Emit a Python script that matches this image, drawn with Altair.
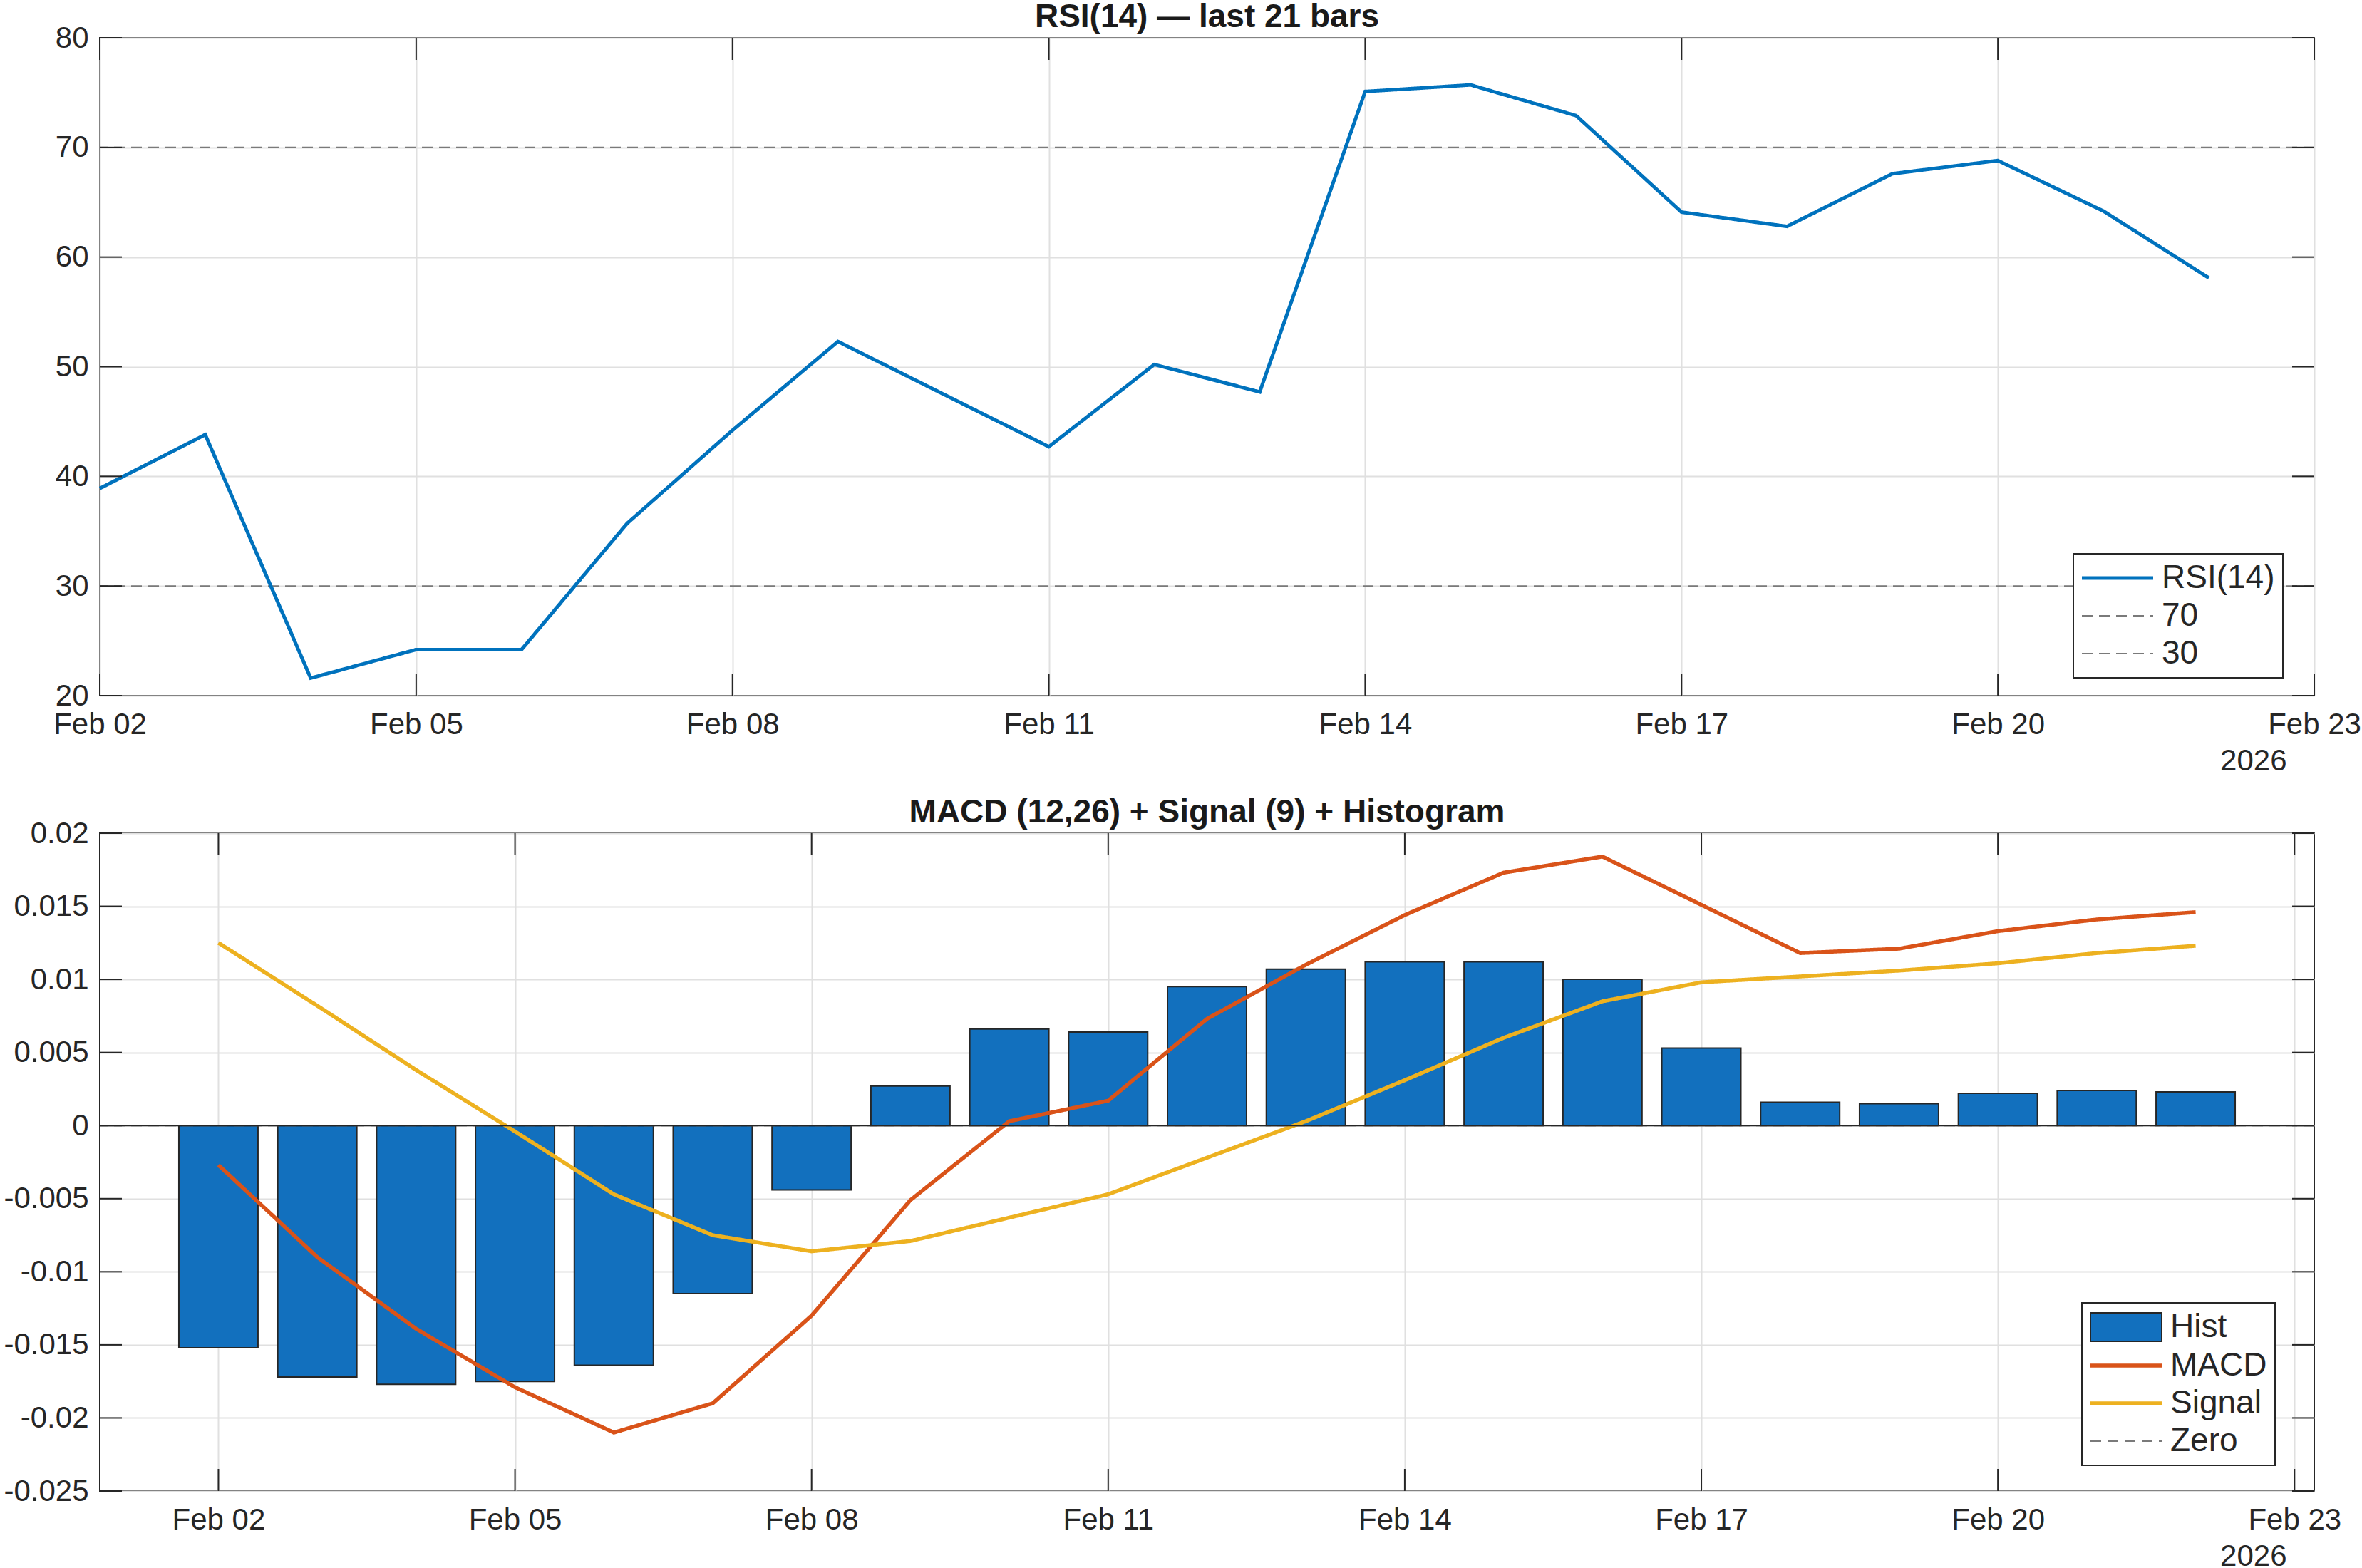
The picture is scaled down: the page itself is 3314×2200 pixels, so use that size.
import altair as alt
import pandas as pd

# ---------------- data ----------------
dates = ["2026-02-02", "2026-02-03", "2026-02-04", "2026-02-05", "2026-02-06",
         "2026-02-07", "2026-02-08", "2026-02-09", "2026-02-10", "2026-02-11",
         "2026-02-12", "2026-02-13", "2026-02-14", "2026-02-15", "2026-02-16",
         "2026-02-17", "2026-02-18", "2026-02-19", "2026-02-20", "2026-02-21",
         "2026-02-22"]
rsi = [38.9, 43.8, 21.6, 24.2, 24.2, 35.7, 44.2, 52.3, 47.5, 42.7, 50.2,
       47.7, 75.1, 75.7, 72.9, 64.1, 62.8, 67.6, 68.8, 64.2, 58.1]
rsi_levels = [70, 30]
top_names = ["RSI(14)", "70", "30"]

hist = [-0.0152, -0.0172, -0.0177, -0.0175, -0.0164, -0.0115, -0.0044,
        0.0027, 0.0066, 0.0064, 0.0095, 0.0107, 0.0112, 0.0112, 0.0100,
        0.0053, 0.0016, 0.0015, 0.0022, 0.0024, 0.0023]
macd = [-0.0027, -0.0090, -0.0139, -0.0179, -0.0210, -0.0190, -0.0130,
        -0.0051, 0.0003, 0.0017, 0.0073, 0.0110, 0.0144, 0.0173, 0.0184,
        0.0151, 0.0118, 0.0121, 0.0133, 0.0141, 0.0146]
signal = [0.0125, 0.0082, 0.0038, -0.0004, -0.0047, -0.0075, -0.0086,
          -0.0079, -0.0063, -0.0047, -0.0022, 0.0003, 0.0031, 0.0060, 0.0085,
          0.0098, 0.0102, 0.0106, 0.0111, 0.0118, 0.0123]
bot_names = ["Hist", "MACD", "Signal", "Zero"]

tick_dates = ["2026-02-02", "2026-02-05", "2026-02-08", "2026-02-11",
              "2026-02-14", "2026-02-17", "2026-02-20", "2026-02-23"]
rsi_ticks = [20, 30, 40, 50, 60, 70, 80]
macd_ticks = [-0.025, -0.02, -0.015, -0.01, -0.005, 0, 0.005, 0.01, 0.015, 0.02]

# ---------------- style ----------------
FONT = "Liberation Sans"
AX = "#262626"
GRID = "#e0e0e0"
BLUE = "#0072BD"
BAR = "#1270BE"
ORANGE = "#D95319"
YELLOW = "#EDB120"
DASHC = "#7a7a7a"
DASH = [15, 9]
SOLID = [1, 0]
LINE_SHAPE = "M-2.2,0H7.8"
THIN_SHAPE = "M-2.2,-0.18H7.8V0.18H-2.2Z"
RECT_SHAPE = "M-2.2,-2H7.8V2H-2.2Z"
LW_RSI = 5
LW = 5.5
W, H = 3107, 923
TICK = 31
DAY = 86400000
TITLE_OFFSET = -52


def ms(s):
    return int(pd.Timestamp(s, tz="UTC").value // 10**6)


tick_ms = [ms(d) for d in tick_dates]
top_domain = [ms("2026-02-02"), ms("2026-02-23")]
bot_domain = [ms("2026-02-02") - 1.2 * DAY, ms("2026-02-23") + 0.2 * DAY]

xaxis = dict(values=tick_ms, labelExpr="utcFormat(datum.value, '%b %d')",
             title="2026", titleAnchor="end", titleAlign="right",
             titleBaseline="alphabetic", titleX=3068, titleY=104,
             titleFontWeight="normal", titleFontSize=42, titleFont=FONT,
             titleColor=AX, labelPadding=20, grid=True, ticks=False,
             domain=False, labelFlush=False)


def legend(x, y, **kw):
    return alt.Legend(title=None, orient="none", legendX=x, legendY=y,
                      symbolType=LINE_SHAPE, symbolSize=400, labelOffset=67,
                      padding=11, rowPadding=7, labelFontSize=46,
                      labelFont=FONT, labelColor=AX, strokeColor=AX,
                      fillColor="white", labelLimit=400, symbolOpacity=1, **kw)


def thr_scale(n, rng):
    return alt.Scale(type="threshold", domain=[i + 0.5 for i in range(n - 1)], range=rng)


def tick_layers(ydf, xdf, xenc, yenc):
    base_y = alt.Chart(ydf).mark_rule(color=AX, strokeWidth=2)
    base_x = alt.Chart(xdf).mark_rule(color=AX, strokeWidth=2)
    return [
        base_y.encode(y=yenc, x=alt.value(0), x2=alt.value(TICK)),
        base_y.encode(y=yenc, x=alt.value(W - TICK), x2=alt.value(W)),
        base_x.encode(x=xenc, y=alt.value(0), y2=alt.value(TICK)),
        base_x.encode(x=xenc, y=alt.value(H - TICK), y2=alt.value(H)),
    ]


def title(text):
    return alt.TitleParams(text, frame="group", anchor="middle", fontSize=46,
                           fontWeight="bold", font=FONT, color="#1a1a1a",
                           offset=TITLE_OFFSET, baseline="alphabetic")


xtick_df = pd.DataFrame({"date": tick_dates})

# ---------------- top panel ----------------
xt = alt.X("date:T", scale=alt.Scale(type="utc", domain=top_domain, nice=False),
           axis=alt.Axis(**xaxis))
yt = alt.Y("value:Q", scale=alt.Scale(domain=[20, 80], nice=False, zero=False),
           axis=alt.Axis(values=rsi_ticks, title=None, grid=True, ticks=False,
                         domain=False, labelPadding=16))

label_map = "[" + ",".join("'" + n + "'" for n in top_names) + "][datum.index]"
leg_top = legend(2769, 724, labelExpr=label_map)
n_top = len(top_names)
top_style = dict(
    stroke=alt.Stroke("code:Q", scale=thr_scale(n_top, [BLUE, DASHC, DASHC]), legend=leg_top),
    strokeWidth=alt.StrokeWidth("code:Q", scale=thr_scale(n_top, [LW_RSI, 2, 2]), legend=leg_top),
    strokeDash=alt.StrokeDash("code:Q", scale=thr_scale(n_top, [SOLID, DASH, DASH]), legend=leg_top),
)

rsi_df = pd.DataFrame({"date": dates, "value": rsi, "code": 0})
lvl_df = pd.DataFrame({"value": rsi_levels, "code": [1, 2]})
ytick_top = pd.DataFrame({"value": rsi_ticks})

top_line = alt.Chart(rsi_df).mark_line().encode(x=xt, y=yt, **top_style)
top_lvl = alt.Chart(lvl_df).mark_rule().encode(y=yt, **top_style)

top = alt.layer(top_lvl, top_line, *tick_layers(ytick_top, xtick_df, xt, yt)).properties(
    width=W, height=H, title=title("RSI(14) \u2014 last 21 bars"))

# ---------------- bottom panel ----------------
xb_scale = alt.Scale(type="utc", domain=bot_domain, nice=False)
xb = alt.X("date:T", scale=xb_scale, axis=alt.Axis(**xaxis))
xb_bar = alt.X("start:T", scale=xb_scale, axis=alt.Axis(**xaxis))
yb = alt.Y("value:Q", scale=alt.Scale(domain=[-0.025, 0.02], nice=False, zero=False),
           axis=alt.Axis(values=macd_ticks, title=None, grid=True, ticks=False,
                         domain=False, labelPadding=16,
                         labelExpr="'' + datum.value"))

leg_bot = legend(2781, 659, symbolStrokeWidth=2)
bot_stroke = alt.Stroke("series:N", scale=alt.Scale(domain=bot_names, range=[AX, ORANGE, YELLOW, DASHC]), legend=leg_bot)
bot_dash = alt.StrokeDash("series:N", scale=alt.Scale(domain=bot_names, range=[SOLID, SOLID, SOLID, DASH]), legend=leg_bot)
bot_fill = alt.Fill("series:N", scale=alt.Scale(domain=bot_names, range=[BAR, ORANGE, YELLOW, "transparent"]), legend=leg_bot)
bot_shape = alt.Shape("series:N", scale=alt.Scale(domain=bot_names, range=[RECT_SHAPE, THIN_SHAPE, THIN_SHAPE, LINE_SHAPE]), legend=leg_bot)

hist_df = pd.DataFrame({"date": dates, "value": hist, "series": "Hist"})
lines_df = pd.concat([
    pd.DataFrame({"date": dates, "value": macd, "series": "MACD"}),
    pd.DataFrame({"date": dates, "value": signal, "series": "Signal"}),
])
zero_df = pd.DataFrame({"value": [0], "series": ["Zero"]})
ytick_bot = pd.DataFrame({"value": macd_ticks})

# legend carrier: same series table, no rows drawn
legend_layer = alt.Chart(hist_df).transform_filter("false").mark_point(
    filled=False, strokeWidth=2, opacity=1).encode(
    x=xb, y=yb, stroke=bot_stroke, strokeDash=bot_dash, fill=bot_fill, shape=bot_shape)
bars = alt.Chart(hist_df).transform_calculate(
    start="toDate(datum.date) - 0.4 * 86400000",
    end="toDate(datum.date) + 0.4 * 86400000",
).mark_bar(fill=BAR, stroke=AX, strokeWidth=2).encode(
    x=xb_bar, x2="end:T", y=yb, y2=alt.datum(0))
lines = alt.Chart(lines_df).mark_line(strokeWidth=LW).encode(
    x=xb, y=yb, stroke=bot_stroke, strokeDash=bot_dash)
zero = alt.Chart(zero_df).mark_rule(strokeWidth=2).encode(
    y=yb, stroke=bot_stroke, strokeDash=bot_dash)
baseline = alt.Chart(zero_df).mark_rule(color=AX, strokeWidth=2).encode(y=yb)

bottom = alt.layer(legend_layer, bars, lines, zero, baseline,
                   *tick_layers(ytick_bot, xtick_df, xb, yb)).properties(
    width=W, height=H, title=title("MACD (12,26) + Signal (9) + Histogram"))

chart = alt.vconcat(top, bottom, spacing=193, bounds="flush").resolve_scale(
    stroke="independent", x="independent", y="independent",
    strokeWidth="independent", strokeDash="independent",
    fill="independent", shape="independent"
).resolve_legend(
    stroke="independent", strokeWidth="independent", strokeDash="independent",
    fill="independent", shape="independent"
).configure(
    background="white", padding={"left": 3, "top": 0, "right": 0, "bottom": 0}
).configure_axis(
    labelFont=FONT, labelFontSize=42, labelColor=AX, gridColor=GRID,
    gridWidth=2, gridOpacity=1
).configure_view(
    stroke=AX, strokeWidth=2
).configure_legend(
    strokeWidth=2
)

chart.save("out.html", embed_options={"renderer": "svg", "actions": False})
